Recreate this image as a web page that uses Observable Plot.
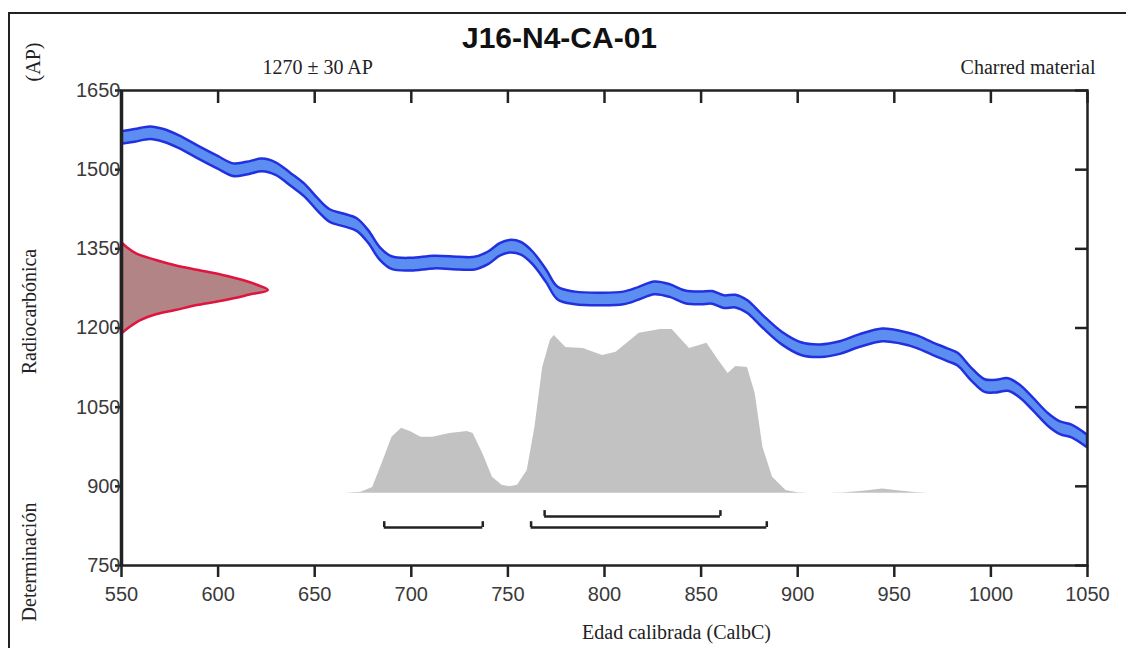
<!DOCTYPE html>
<html>
<head>
<meta charset="utf-8">
<script src="https://cdn.jsdelivr.net/npm/d3@7"></script>
<script src="https://cdn.jsdelivr.net/npm/@observablehq/plot@0.6"></script>
<style>
  html, body { margin: 0; padding: 0; background: #fff; }
  #wrap { position: relative; width: 1126px; height: 648px; overflow: hidden; }
  #border { position: absolute; left: 8px; top: 12px; width: 1130px; height: 650px; border: 2px solid #222; box-sizing: border-box; }
  #chart { position: absolute; left: 0; top: 0; }
</style>
</head>
<body>
<div id="wrap"><div id="border"></div><div id="chart"></div></div>
<script>
// ---- Data ----
const titleText = "J16-N4-CA-01";
const dateLabel = "1270 \u00b1 30 AP";
const materialLabel = "Charred material";
const xLabel = "Edad calibrada (CalbC)";
const yLabelParts = ["(AP)", "Radiocarb\u00f3nica", "Determinaci\u00f3n"];

const xDomain = [550, 1050];
const yDomain = [750, 1650];
const xTicks = [550, 600, 650, 700, 750, 800, 850, 900, 950, 1000, 1050];
const yTicks = [750, 900, 1050, 1200, 1350, 1500, 1650];

// Calibration curve (centre, BP) and its 1-sigma half width
const calYears = [550, 557, 565, 572, 580, 590, 600, 608, 615, 623, 630, 638, 645, 652, 658, 665, 672, 678, 684, 690, 700, 712, 725, 733, 740, 746, 751, 757, 763, 770, 776, 785, 798, 810, 818, 826, 834, 842, 850, 856, 862, 868, 874, 882, 892, 902, 912, 922, 932, 944, 953, 962, 970, 978, 983, 990, 997, 1003, 1009, 1015, 1022, 1030, 1036, 1042, 1050];
const calBP =    [1560, 1564, 1569, 1564, 1552, 1532, 1513, 1499, 1502, 1508, 1501, 1480, 1460, 1432, 1412, 1404, 1395, 1372, 1340, 1323, 1320, 1324, 1322, 1322, 1332, 1348, 1354, 1350, 1332, 1298, 1265, 1256, 1254, 1256, 1265, 1275, 1270, 1258, 1256, 1257, 1249, 1250, 1240, 1212, 1180, 1160, 1156, 1162, 1175, 1186, 1182, 1173, 1160, 1148, 1140, 1112, 1090, 1089, 1092, 1080, 1055, 1025, 1010, 1004, 985];
const calSigma = 12;

// Radiocarbon date distribution (BP) and its drawn width (in years)
const dateBP =      [1188, 1200, 1214, 1225, 1233, 1243, 1252, 1262, 1271, 1280, 1290, 1300, 1309, 1318, 1328, 1340, 1352, 1362];
const dateDensity = [0,    4,    10,   18,   28,   40,   54,   66,   76,   71,   63,   52,   40,   28,   18,   8,    3,    0];

// Calibrated probability (grey), top edge in BP units above a base
const probYears = [666, 674, 680, 685, 690, 695, 700, 705, 711, 720, 729, 732, 737, 742, 747, 751, 755, 760, 764, 768, 772, 774, 780, 789, 799, 806, 818, 829, 835, 844, 853, 859, 864, 868, 874, 878, 882, 887, 894, 900, 906, 916, 925, 935, 944, 953, 962, 968];
const probTop =   [887, 889, 898, 944, 993, 1010, 1003, 993, 993, 1000, 1004, 1000, 962, 917, 902, 899, 902, 930, 1012, 1125, 1177, 1186, 1163, 1161, 1148, 1154, 1190, 1197, 1197, 1161, 1171, 1139, 1114, 1127, 1125, 1076, 974, 917, 892, 888, 887, 887, 888, 891, 895, 891, 888, 887];
const probBase = 887;

// Calibrated ranges (1 sigma upper, 2 sigma lower)
const sigma1From = [769];
const sigma1To = [860];
const sigma1Level = 843;
const sigma2From = [686, 762];
const sigma2To = [737, 884];
const sigma2Level = 822;
const capHeight = 11;

// ---- Build tables ----
const cal = calYears.map((x, i) => ({x, c: calBP[i]}));
const dist = dateBP.map((y, i) => ({y, w: dateDensity[i]}));
const prob = probYears.map((x, i) => ({x, v: probTop[i]}));
const ranges = [
  ...sigma1From.map((f, i) => ({from: f, to: sigma1To[i], level: sigma1Level})),
  ...sigma2From.map((f, i) => ({from: f, to: sigma2To[i], level: sigma2Level}))
];
const caps = ranges.flatMap(r => [{x: r.from, level: r.level}, {x: r.to, level: r.level}]);

const sans = "Liberation Sans, Arial, sans-serif";
const serif = "Liberation Serif, Times New Roman, serif";
const fmt = d3.format("d");

const label = (t, opts) => Plot.text([t], {text: d => d, lineAnchor: "middle", fontSize: 20, fontFamily: serif, fill: "#222", ...opts});

const chart = Plot.plot({
  width: 1126,
  height: 648,
  marginLeft: 121,
  marginRight: 39,
  marginTop: 90,
  marginBottom: 83,
  x: {domain: xDomain},
  y: {domain: yDomain},
  style: {background: "transparent", overflow: "visible"},
  marks: [
    // grey calibrated probability
    Plot.areaY(prob, {x: "x", y1: () => probBase, y2: "v", fill: "#c2c2c2", curve: "linear"}),
    // range brackets
    Plot.ruleY(ranges, {y: "level", x1: "from", x2: "to", stroke: "#222", strokeWidth: 2.5}),
    Plot.ruleX(caps, {x: "x", y1: "level", y2: d => d.level + capHeight, stroke: "#222", strokeWidth: 2.5}),
    // calibration curve band
    Plot.areaY(cal, {x: "x", y1: d => d.c - calSigma, y2: d => d.c + calSigma, fill: "#5b8ef0", stroke: "#2230e0", strokeWidth: 2.5, curve: "catmull-rom", clip: true}),
    // radiocarbon date distribution
    Plot.areaX(dist, {y: "y", x1: () => xDomain[0], x2: d => xDomain[0] + d.w, fill: "#b38485", stroke: "#e0143e", strokeWidth: 2.5, curve: "catmull-rom"}),
    // axes
    Plot.axisX({anchor: "bottom", ticks: xTicks, tickFormat: fmt, tickSize: 12, tickPadding: 9, fontSize: 20, fontFamily: sans, stroke: "#222", fill: "#3a3a3a", strokeWidth: 2.5, label: null}),
    Plot.axisX({anchor: "top", ticks: xTicks, tickSize: 12, dy: 12, tickFormat: () => "", stroke: "#222", strokeWidth: 2.5, label: null}),
    Plot.axisY({anchor: "left", ticks: yTicks, tickFormat: fmt, tickSize: 6, tickPadding: -5, fontSize: 20, fontFamily: sans, stroke: "#222", fill: "#3a3a3a", strokeWidth: 2.5, label: null}),
    Plot.axisY({anchor: "right", ticks: yTicks, tickSize: 13, dx: -13, tickFormat: () => "", stroke: "#222", strokeWidth: 2.5, label: null}),
    Plot.frame({stroke: "#222", strokeWidth: 2.5}),
    Plot.ruleX([xDomain[0]], {stroke: "#222", strokeWidth: 3.5}),
    // texts
    label(titleText, {frameAnchor: "top", textAnchor: "middle", dx: -45, dy: -52, fontSize: 30, fontWeight: "bold", fontFamily: sans, fill: "#111"}),
    label(dateLabel, {frameAnchor: "top-left", textAnchor: "start", dx: 141, dy: -23}),
    label(materialLabel, {frameAnchor: "top-right", textAnchor: "end", dx: 8, dy: -23}),
    label(xLabel, {frameAnchor: "bottom", textAnchor: "middle", dx: 72, dy: 67}),
    label(yLabelParts[0], {frameAnchor: "left", textAnchor: "middle", rotate: -90, dx: -88, dy: -266}),
    label(yLabelParts[1], {frameAnchor: "left", textAnchor: "middle", rotate: -90, dx: -92, dy: -16.5}),
    label(yLabelParts[2], {frameAnchor: "left", textAnchor: "middle", rotate: -90, dx: -92, dy: 234})
  ]
});
document.getElementById("chart").appendChild(chart);
</script>
</body>
</html>
